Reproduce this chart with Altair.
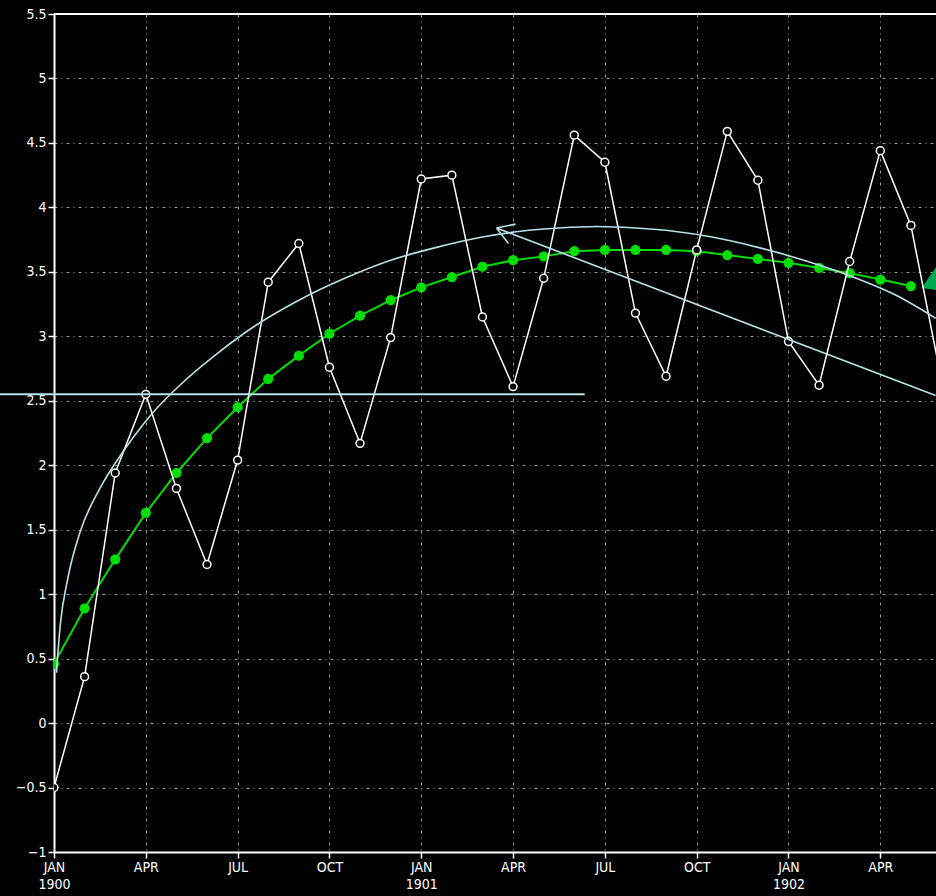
import altair as alt
import pandas as pd

# ---------------- data ----------------
MONTH_NAMES = ['JAN', 'FEB', 'MAR', 'APR', 'MAY', 'JUN',
               'JUL', 'AUG', 'SEP', 'OCT', 'NOV', 'DEC']
START_YEAR = 1900
TICK_MONTHS = [0, 3, 6, 9, 12, 15, 18, 21, 24, 27]
Y_TICKS = [-1, -0.5, 0, 0.5, 1, 1.5, 2, 2.5, 3, 3.5, 4, 4.5, 5, 5.5]

# monthly series, month 0 = JAN 1900
white_vals = [-0.50, 0.36, 1.94, 2.55, 1.82, 1.23, 2.04, 3.42, 3.72, 2.76,
              2.17, 2.99, 4.22, 4.25, 3.15, 2.61, 3.45, 4.56, 4.35, 3.18,
              2.69, 3.67, 4.59, 4.21, 2.96, 2.62, 3.58, 4.44, 3.86, 2.66]
green_vals = [0.46, 0.89, 1.27, 1.63, 1.94, 2.21, 2.45, 2.67, 2.85, 3.02,
              3.16, 3.28, 3.38, 3.46, 3.54, 3.59, 3.62, 3.66, 3.67, 3.67,
              3.67, 3.66, 3.63, 3.60, 3.57, 3.53, 3.49, 3.44, 3.39]

# light-blue hand-drawn annotations (data coordinates)
arc_x = [0.08, 0.2, 0.45, 0.85, 1.5, 2.3, 3.2, 4.2, 5.3, 6.5, 8.0, 9.5,
         11.0, 12.5, 14.0, 15.25, 16.5, 17.75, 19.0, 20.25, 21.5, 23.0,
         24.5, 26.0, 27.5, 28.81]
arc_y = [0.39, 0.75, 1.12, 1.48, 1.82, 2.12, 2.40, 2.64, 2.86, 3.07, 3.28,
         3.45, 3.59, 3.69, 3.77, 3.815, 3.84, 3.852, 3.84, 3.815, 3.77,
         3.69, 3.59, 3.47, 3.32, 3.14]
hline_x = [-1.78, 17.34]
hline_y = 2.55
arrow_seg = ['shaft', 'shaft', 'barb1', 'barb1', 'barb2', 'barb2']
arrow_x = [28.81, 14.46, 14.46, 15.08, 14.46, 14.85]
arrow_y = [2.54, 3.84, 3.84, 3.87, 3.84, 3.72]
green_head_x = [28.35]
green_head_y = [3.375]

# ---------------- tables ----------------
white_df = pd.DataFrame({'m': list(range(len(white_vals))), 'v': white_vals})
green_df = pd.DataFrame({'m': list(range(len(green_vals))), 'v': green_vals})
arc_df = pd.DataFrame({'m': arc_x, 'v': arc_y})
hline_df = pd.DataFrame({'m': [hline_x[0]], 'm2': [hline_x[1]], 'v': [hline_y]})
arrow_df = pd.DataFrame({'seg': arrow_seg, 'm': arrow_x, 'v': arrow_y,
                         'o': list(range(len(arrow_x)))})
head_df = pd.DataFrame({'m': green_head_x, 'v': green_head_y})

FONT = "Liberation Sans Narrow, DejaVu Sans Condensed, DejaVu Sans, sans-serif"
names_js = "[" + ",".join("'%s'" % n for n in MONTH_NAMES) + "]"
x_label_expr = (f"[{names_js}[datum.value % 12], datum.value % 12 == 0 ? "
                f"'' + ({START_YEAR} + floor(datum.value / 12)) : '']")

GRID_COLOR = '#9a9a9a'
GRID_DASH = [3, 4, 1, 4]

x_axis = alt.Axis(values=TICK_MONTHS, labelExpr=x_label_expr, title=None,
                  grid=True, gridColor=GRID_COLOR, gridDash=GRID_DASH,
                  gridWidth=1, domainColor='white', domainWidth=2,
                  tickColor='white', tickSize=6, tickWidth=1.5,
                  labelColor='white', labelFont=FONT, labelFontSize=14,
                  labelLineHeight=17, labelPadding=2, labelFlush=False)
y_axis = alt.Axis(values=Y_TICKS, labelExpr="format(datum.value, '~g')",
                  title=None, grid=True, gridColor=GRID_COLOR,
                  gridDash=GRID_DASH, gridWidth=1, domainColor='white',
                  domainWidth=2, tickColor='white', tickSize=6, tickWidth=1.5,
                  labelColor='white', labelFont=FONT, labelFontSize=14,
                  labelPadding=2, labelFlush=False)
x_scale = alt.Scale(domain=[0, 28.82], nice=False, zero=False)
y_scale = alt.Scale(domain=[-1, 5.5], nice=False, zero=False)


def X(field='m'):
    return alt.X(f'{field}:Q', scale=x_scale, axis=x_axis)


def Y(field='v'):
    return alt.Y(f'{field}:Q', scale=y_scale, axis=y_axis)


GREEN = '#00dd00'
BLUE = '#b8e2ea'

green_line = alt.Chart(green_df).mark_line(
    color=GREEN, strokeWidth=2, clip=True).encode(x=X(), y=Y())
green_pts = alt.Chart(green_df).mark_point(
    shape='circle', filled=True, color=GREEN, size=105, opacity=1,
    clip=True).encode(x=X(), y=Y())
head = alt.Chart(head_df).mark_point(
    shape='M0,0 L2,-2.9 L2,0.3 Z', filled=True, color='#00a84f', size=1000,
    opacity=1, clip=True).encode(x=X(), y=Y())
white_line = alt.Chart(white_df).mark_line(
    color='white', strokeWidth=1.5, clip=True).encode(x=X(), y=Y())
white_pts = alt.Chart(white_df).mark_point(
    shape='circle', filled=False, fill='black', fillOpacity=1,
    stroke='white', strokeWidth=1.5, size=62, opacity=1,
    clip=True).encode(x=X(), y=Y())

arc = alt.Chart(arc_df).mark_line(
    color=BLUE, strokeWidth=1.6, interpolate='monotone', clip=True
).encode(x=X(), y=Y())
hline = alt.Chart(hline_df).mark_rule(
    color=BLUE, strokeWidth=2, clip=False
).encode(x=X(), x2='m2:Q', y=Y())
arrow = alt.Chart(arrow_df).mark_line(
    color=BLUE, strokeWidth=1.6, clip=True
).encode(x=X(), y=Y(), detail='seg:N', order='o:Q')
top_frame = alt.Chart(head_df).mark_rule(
    color='white', strokeWidth=2, clip=False
).encode(y=alt.datum(5.5, scale=y_scale))

chart = alt.layer(
    green_line, green_pts, head, white_line, white_pts,
    arc, hline, arrow, top_frame
).properties(
    width=882, height=838,
    autosize=alt.AutoSizeParams(type='none'),
    padding={'left': 54, 'top': 14, 'right': 0, 'bottom': 44},
    background='black'
).configure_view(stroke=None)

chart.save("out.html", embed_options={"renderer": "svg", "actions": False})
